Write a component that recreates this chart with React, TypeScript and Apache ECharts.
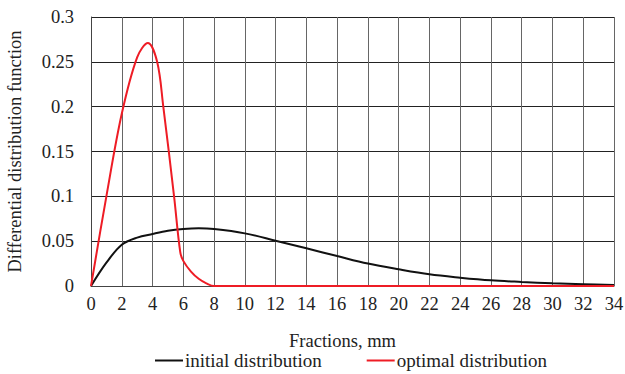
import React, { useEffect, useRef } from "react";
import * as echarts from "echarts";

const initialX = [0, 1, 2, 3, 4, 5, 6, 7, 8, 10, 12, 14, 16, 18, 20, 22, 24, 26, 28, 30, 32, 34];
const initialY = [0, 0.026, 0.046, 0.054, 0.058, 0.0615, 0.0635, 0.0643, 0.0635, 0.0587, 0.0505, 0.042, 0.0334, 0.025, 0.0186, 0.013, 0.0093, 0.0063, 0.0045, 0.003, 0.002, 0.001];

const optimalX = [0, 1, 2, 3, 3.7, 4.3, 4.7, 5.4, 5.8, 6, 6.5, 7, 7.5, 8, 10, 34];
const optimalY = [0, 0.1, 0.192, 0.255, 0.271, 0.25, 0.2, 0.1, 0.038, 0.028, 0.016, 0.008, 0.003, 0, 0, 0];

const seriesNames = ["initial distribution", "optimal distribution"];
const xTitle = "Fractions, mm";
const yTitle = "Differential distribution function";

export default function App() {
  const ref = useRef<HTMLDivElement>(null);
  useEffect(() => {
    const chart = echarts.init(ref.current!, null, { renderer: "svg" });
    const font = "'Liberation Serif', 'Times New Roman', serif";
    const fs = 18.5;
    chart.setOption({
      animation: false,
      textStyle: { fontFamily: font },
      grid: { left: 91, right: 11, top: 17, bottom: 88, containLabel: false, outerBoundsMode: "none" },
      legend: {
        top: 351,
        left: 155,
        padding: 0,
        icon: "rect",
        itemWidth: 28,
        itemHeight: 2,
        itemGap: 45,
        textStyle: { fontFamily: font, fontSize: 19, color: "#222", padding: [0, 0, 0, -3] },
        data: seriesNames,
      },
      xAxis: {
        type: "value",
        min: 0,
        max: 34,
        interval: 2,
        name: xTitle,
        nameLocation: "middle",
        nameGap: 45,
        nameTextStyle: { fontFamily: font, fontSize: fs, color: "#222", padding: [0, 20, 0, 0] },
        axisLine: { show: true, lineStyle: { color: "#444", width: 1 } },
        axisTick: { show: false },
        axisLabel: { fontFamily: font, fontSize: fs, color: "#222", margin: 8 },
        splitLine: { show: true, lineStyle: { color: "#666", width: 1 } },
      },
      yAxis: {
        type: "value",
        min: 0,
        max: 0.3,
        interval: 0.05,
        name: yTitle,
        nameLocation: "middle",
        nameGap: 67,
        nameTextStyle: { fontFamily: font, fontSize: fs, color: "#222" },
        axisLine: { show: true, lineStyle: { color: "#444", width: 1 } },
        axisTick: { show: false },
        axisLabel: { fontFamily: font, fontSize: fs, color: "#222", margin: 17 },
        splitLine: { show: true, lineStyle: { color: "#222", width: 1 } },
      },
      series: [
        {
          name: seriesNames[0],
          type: "line",
          data: initialX.map((x, i) => [x, initialY[i]]),
          smooth: 0.35,
          showSymbol: false,
          lineStyle: { color: "#111", width: 2 },
          itemStyle: { color: "#111" },
          z: 3,
        },
        {
          name: seriesNames[1],
          type: "line",
          data: optimalX.map((x, i) => [x, optimalY[i]]),
          smooth: 0.35,
          showSymbol: false,
          lineStyle: { color: "#ee1c25", width: 2 },
          itemStyle: { color: "#ee1c25" },
          z: 4,
        },
      ],
    });
    return () => chart.dispose();
  }, []);
  return <div ref={ref} style={{ width: 625, height: 374, position: "absolute", left: 0, top: 0 }} />;
}
